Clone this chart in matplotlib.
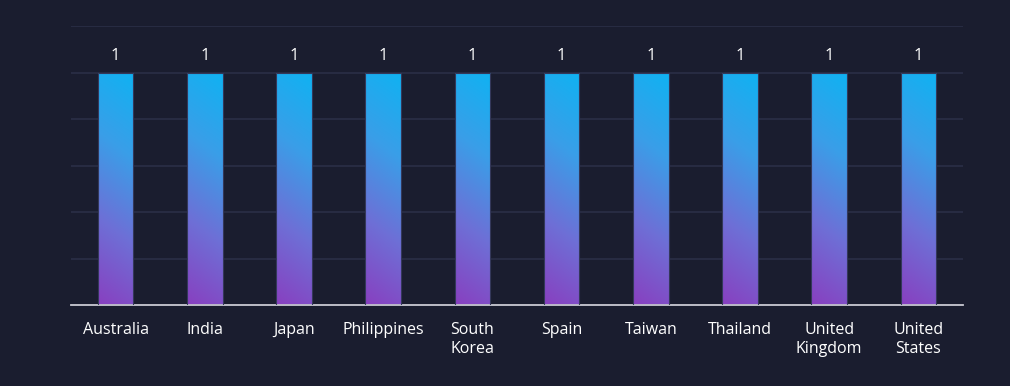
import matplotlib
matplotlib.use("Agg")
import matplotlib.pyplot as plt
import numpy as np
from matplotlib.colors import LinearSegmentedColormap

categories = ["Australia", "India", "Japan", "Philippines", "South\nKorea",
              "Spain", "Taiwan", "Thailand", "United\nKingdom", "United\nStates"]
values = [1, 1, 1, 1, 1, 1, 1, 1, 1, 1]
value_labels = ["1"] * 10

bg = "#1a1d2f"
fig = plt.figure(figsize=(10.10, 3.86), dpi=100, facecolor=bg)
ax = fig.add_axes([71/1010, 81/386, (963-71)/1010, (305-26)/386])
ax.set_facecolor(bg)

x = np.arange(len(categories))
ax.set_xlim(-0.5, len(categories) - 0.5)
ax.set_ylim(0, 1.2)
ax.set_yticks(np.arange(0, 1.21, 0.2))
ax.yaxis.grid(True, color="#2a2f46", linewidth=1.2)
ax.set_axisbelow(True)
ax.tick_params(axis="y", left=False, labelleft=False)
ax.tick_params(axis="x", bottom=False, colors="white", labelsize=11.5, pad=9)
for s in ["top", "right", "left"]:
    ax.spines[s].set_visible(False)
ax.spines["bottom"].set_color("#c9c9d2")
ax.spines["bottom"].set_linewidth(1.3)

cmap = LinearSegmentedColormap.from_list("g", ["#8840c0", "#6e6fd6", "#3a9ee8", "#10b2f2"])
bars = ax.bar(x, values, width=0.4, color="none", edgecolor="#34385a", linewidth=0.8, zorder=3)
gy, gx = np.mgrid[0:1:200j, 0:1:20j]
grad = gy * 0.9 + gx * 0.1
for b in bars:
    x0, y0 = b.get_x(), b.get_y()
    w, h = b.get_width(), b.get_height()
    im = ax.imshow(grad, extent=[x0, x0 + w, y0, y0 + h], origin="lower",
                   cmap=cmap, aspect="auto", zorder=2, vmin=0, vmax=1)
    im.set_clip_path(b)

for xi, v, lab in zip(x, values, value_labels):
    ax.text(xi, v + 0.035, lab, ha="center", va="bottom", color="white",
            fontsize=12, fontfamily="Open Sans")

ax.set_xticks(x)
ax.set_xticklabels(categories, linespacing=1.25)
for t in ax.get_xticklabels():
    t.set_fontfamily("Open Sans")
ax.set_xlim(-0.5, len(categories) - 0.5)

fig.savefig("out.png", dpi=100, facecolor=bg)
